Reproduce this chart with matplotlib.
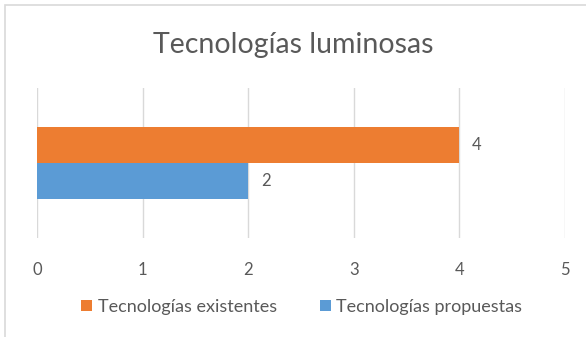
import matplotlib
matplotlib.use("Agg")
import matplotlib.pyplot as plt
from matplotlib.patches import Rectangle

# datos
series = ["Tecnologías existentes", "Tecnologías propuestas"]
valores = [4, 2]
colores = ["#ED7D31", "#5B9BD5"]
ticks_x = [0, 1, 2, 3, 4, 5]

plt.rcParams["font.family"] = ["Lato", "DejaVu Sans"]
gris = "#595959"

fig = plt.figure(figsize=(5.86, 3.37), dpi=100)
ax = fig.add_axes([0.0631, 0.2938, 0.9010, 0.4451])

# borde del gráfico
fig.patches.append(Rectangle((5 / 586, -0.05), 1.1, 1 - 5 / 337 + 0.05,
                             transform=fig.transFigure, fill=False,
                             edgecolor="#D9D9D9", linewidth=1.2))

alto = 0.24
posiciones = [alto / 2, -alto / 2]
for nombre, v, c, y in zip(series, valores, colores, posiciones):
    ax.barh(y, v, height=alto, color=c, label=nombre, zorder=3)
    ax.text(v + 0.12, y, str(v), va="center", ha="left", fontsize=12, color=gris)

ax.set_xlim(0, 5)
ax.set_ylim(-0.5, 0.5)
ax.set_xticks(ticks_x)
ax.set_yticks([])
ax.grid(axis="x", color="#D9D9D9", linewidth=1, zorder=0)
for s in ax.spines.values():
    s.set_visible(False)
ax.tick_params(axis="x", length=0, pad=17, labelsize=12, labelcolor=gris)

fig.text(0.5, 1 - 45 / 337, "Tecnologías luminosas", ha="center", va="center",
         fontsize=20.5, color=gris)

fig.legend(loc="center", bbox_to_anchor=(0.515, 1 - 307 / 337), ncol=2, frameon=False,
           fontsize=13, labelcolor=gris, handlelength=0.6, handleheight=0.6,
           handletextpad=0.3, columnspacing=2.4)

fig.savefig("out.png", dpi=100)
